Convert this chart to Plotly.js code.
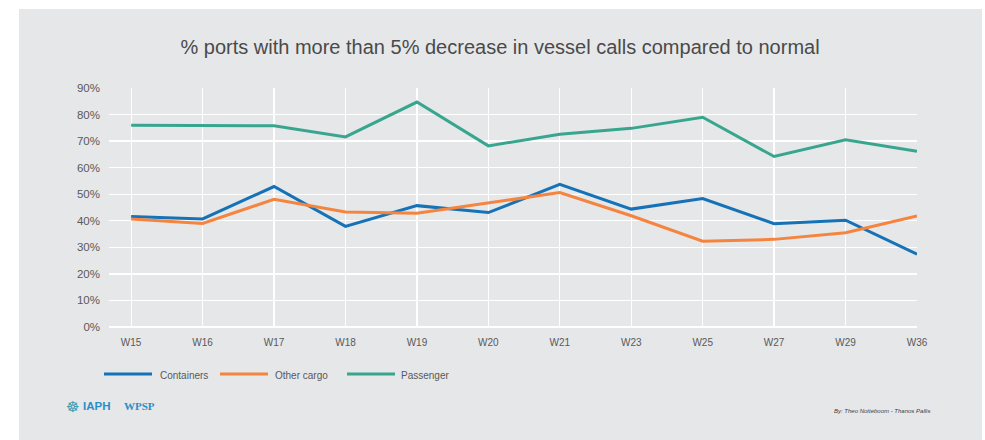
<!DOCTYPE html>
<html>
<head>
<meta charset="utf-8">
<script src="https://cdn.plot.ly/plotly-3.0.1.min.js"></script>
<style>
  html, body { margin: 0; padding: 0; background: #ffffff; }
  #chart { position: absolute; left: 19px; top: 9px; width: 963px; height: 431px; }
</style>
</head>
<body>
<div id="chart"></div>
<script>
const weeks = ["W15","W16","W17","W18","W19","W20","W21","W23","W25","W27","W29","W36"];
const containers = [41.6, 40.7, 52.9, 37.9, 45.7, 43.1, 53.7, 44.4, 48.4, 38.9, 40.2, 27.4];
const otherCargo = [40.7, 39.0, 48.1, 43.3, 42.8, 46.7, 50.6, 41.9, 32.3, 33.0, 35.5, 41.8];
const passenger  = [76.0, 76.0, 75.8, 71.6, 84.7, 68.2, 72.6, 74.8, 79.0, 64.2, 70.5, 66.2];
const seriesNames = ["Containers", "Other cargo", "Passenger"];
const yTicks = [0,10,20,30,40,50,60,70,80,90];

const colors = ["#1672b6", "#f5843e", "#38a68f"];
const values = [containers, otherCargo, passenger];

// geometry helpers (div pixel -> paper fraction)
const W = 963, H = 431, ML = 90, MR = 65, MT = 79, MB = 113;
const PW = W - ML - MR, PH = H - MT - MB;
const px = x => (x - ML) / PW;          // x in div pixels
const py = y => (H - MB - y) / PH;      // y in div pixels

const traces = values.map((v, i) => ({
  type: "scatter",
  mode: "lines",
  x: weeks,
  y: v,
  name: seriesNames[i],
  line: { color: colors[i], width: 3 },
  showlegend: false
}));

// custom legend (line samples + labels), positions in div pixels
const legendLineX = [[85, 133], [201, 249], [328, 376]];
const legendTextX = [139, 254, 380];
const legendY = 365;

const shapes = legendLineX.map((xx, i) => ({
  type: "line", xref: "paper", yref: "paper",
  x0: px(xx[0]), x1: px(xx[1]), y0: py(legendY), y1: py(legendY),
  line: { color: colors[i], width: 3 }
}));

const annotations = seriesNames.map((n, i) => ({
  xref: "paper", yref: "paper",
  x: px(legendTextX[i]), y: py(legendY + 1),
  xanchor: "left", yanchor: "middle",
  text: n, showarrow: false,
  font: { size: 10, color: "#595959" }
}));

annotations.push(
  {
    xref: "paper", yref: "paper",
    x: px(45), y: py(398), xanchor: "left", yanchor: "middle",
    text: "☸",
    showarrow: false,
    font: { size: 15, color: "#3a9fb3", family: "DejaVu Sans, sans-serif" }
  },
  {
    xref: "paper", yref: "paper",
    x: px(62), y: py(397), xanchor: "left", yanchor: "middle",
    text: "<b>IAPH</b>",
    showarrow: false,
    font: { size: 11.5, color: "#2a8fc8", family: "Liberation Sans, Arial, sans-serif" }
  },
  {
    xref: "paper", yref: "paper",
    x: px(103), y: py(397), xanchor: "left", yanchor: "middle",
    text: "<b>WPSP</b>",
    showarrow: false,
    font: { size: 11, color: "#2a8fc8", family: "Liberation Serif, Times New Roman, serif" }
  },
  {
    xref: "paper", yref: "paper",
    x: px(913), y: py(402), xanchor: "right", yanchor: "middle",
    text: "<i>By: Theo Notteboom - Thanos Pallis</i>",
    showarrow: false,
    font: { size: 6, color: "#404040", family: "Liberation Sans, Arial, sans-serif" }
  }
);

const layout = {
  width: W,
  height: H,
  paper_bgcolor: "#e6e7e9",
  plot_bgcolor: "#e6e7e9",
  margin: { l: ML, r: MR, t: MT, b: MB },
  font: { family: "Liberation Sans, Arial, sans-serif", color: "#595959" },
  title: {
    text: "% ports with more than 5% decrease in vessel calls compared to normal",
    font: { size: 20, color: "#4a4a4a", family: "Liberation Sans, Arial, sans-serif" },
    xref: "container", yref: "container",
    x: 0.4995, xanchor: "center",
    y: 0.912, yanchor: "middle"
  },
  xaxis: {
    type: "category",
    categoryorder: "array",
    categoryarray: weeks,
    range: [-0.31, 11],
    showgrid: true,
    gridcolor: "#ffffff",
    gridwidth: 1.3,
    zeroline: false,
    showline: false,
    ticks: "",
    ticklabelstandoff: 8,
    tickfont: { size: 10, color: "#595959" },
    fixedrange: true
  },
  yaxis: {
    range: [0, 90],
    tickvals: yTicks,
    ticktext: yTicks.map(t => t + "%"),
    showgrid: true,
    gridcolor: "#ffffff",
    gridwidth: 1.3,
    zeroline: true,
    zerolinecolor: "#ffffff",
    zerolinewidth: 1.3,
    showline: false,
    ticks: "",
    ticklabelstandoff: 8,
    tickfont: { size: 11.5, color: "#595959" },
    fixedrange: true
  },
  showlegend: false,
  shapes: shapes,
  annotations: annotations
};

Plotly.newPlot("chart", traces, layout, { displayModeBar: false, staticPlot: true });
</script>
</body>
</html>
